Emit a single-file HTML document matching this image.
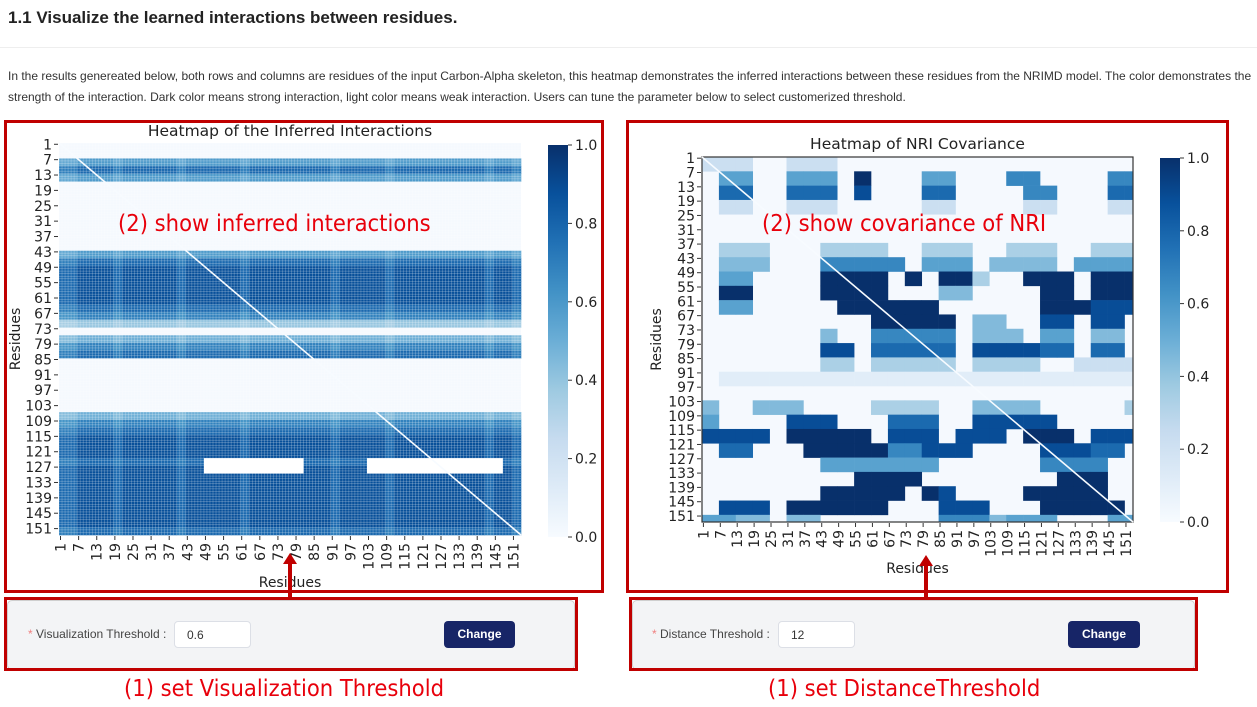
<!DOCTYPE html>
<html><head><meta charset="utf-8"><style>
body{margin:0;width:1257px;height:707px;background:#fff;position:relative;overflow:hidden;font-family:"Liberation Sans",sans-serif}
.abs{position:absolute}
.rbox{position:absolute;border:3px solid #c00000;box-sizing:border-box}
.panel{position:absolute;background:#f3f4f6;border:1px solid #cfcfcf;border-radius:5px;box-sizing:border-box}
.lbl{position:absolute;font-size:12px;color:#444;white-space:nowrap}
.lbl b{color:#f08080;font-weight:normal}
.inp{position:absolute;background:#fff;border:1px solid #dcdfe6;border-radius:4px;box-sizing:border-box;font-size:12px;color:#333;padding:6px 0 0 12px}
.btn{position:absolute;background:#172567;color:#fff;font-weight:bold;font-size:12px;border-radius:4px;text-align:center;line-height:27px}
.red{position:absolute;color:#e8000b;font-family:"DejaVu Sans Condensed","DejaVu Sans",sans-serif;font-size:23.5px;white-space:nowrap}
svg text{font-family:"DejaVu Sans",sans-serif}
</style></head><body>
<div class="abs" style="left:8px;top:8px;font-size:17px;font-weight:bold;color:#222">1.1 Visualize the learned interactions between residues.</div>
<div class="abs" style="left:0;top:47px;width:1257px;height:1px;background:#eee"></div>
<div class="abs" style="left:8px;top:66px;width:1250px;font-size:12px;line-height:21px;color:#333">In the results genereated below, both rows and columns are residues of the input Carbon-Alpha skeleton, this heatmap demonstrates the inferred interactions between these residues from the NRIMD model. The color demonstrates the strength of the interaction. Dark color means strong interaction, light color means weak interaction. Users can tune the parameter below to select customerized threshold.</div>

<svg id="chart" class="abs" style="left:0;top:0" width="1257" height="707"></svg>

<div class="rbox" style="left:4px;top:120px;width:600px;height:473px"></div>
<div class="rbox" style="left:626px;top:120px;width:603px;height:473px"></div>
<div class="red" style="left:118px;top:209px">(2) show inferred interactions</div>
<div class="red" style="left:762px;top:209px">(2) show covariance of NRI</div>

<div class="abs" style="left:288px;top:560px;width:4px;height:38px;background:#c00000"></div>
<div class="abs" style="left:283px;top:553px;width:0;height:0;border-left:7px solid transparent;border-right:7px solid transparent;border-bottom:11px solid #c00000"></div>
<div class="abs" style="left:924px;top:562px;width:4px;height:36px;background:#c00000"></div>
<div class="abs" style="left:919px;top:555px;width:0;height:0;border-left:7px solid transparent;border-right:7px solid transparent;border-bottom:11px solid #c00000"></div>

<div class="panel" style="left:7px;top:600px;width:568px;height:70px"></div>
<div class="rbox" style="left:4px;top:597px;width:574px;height:74px"></div>
<div class="lbl" style="left:28px;top:627px"><b>*</b> Visualization Threshold :</div>
<div class="inp" style="left:174px;top:621px;width:77px;height:27px">0.6</div>
<div class="btn" style="left:444px;top:621px;width:71px;height:27px">Change</div>
<div class="red" style="left:124px;top:674px">(1) set Visualization Threshold</div>

<div class="panel" style="left:632px;top:600px;width:563px;height:70px"></div>
<div class="rbox" style="left:629px;top:597px;width:569px;height:74px"></div>
<div class="lbl" style="left:652px;top:627px"><b>*</b> Distance Threshold :</div>
<div class="inp" style="left:778px;top:621px;width:77px;height:27px">12</div>
<div class="btn" style="left:1068px;top:621px;width:72px;height:27px">Change</div>
<div class="red" style="left:768px;top:674px">(1) set DistanceThreshold</div>

<script>
// ---- data ----
const tickLabels = [1,7,13,19,25,31,37,43,49,55,61,67,73,79,85,91,97,103,109,115,121,127,133,139,145,151];
const cbTicks = [0.0,0.2,0.4,0.6,0.8,1.0];
// heatmap 1: row level per 3-residue block (51 blocks), digits 0-9
const h1RowLevels = [0,0,6,8,6,0,0,0,0,0,0,0,0,0,6,8,9,9,9,9,9,8,7,4,0,5,7,8,0,0,0,0,0,0,0,5,7,8,9,9,9,8,9,9,9,9,9,9,9,9,8];
// column modulation per 3-residue block (51), digits 0-9 (9 = full)
const h1ColMods = [8,8,9,9,9,9,8,9,9,9,9,9,9,8,9,9,9,9,9,9,8,9,9,9,9,9,9,9,9,9,8,9,9,9,9,9,8,9,9,9,9,9,9,9,9,9,9,8,9,9,8];
// holes (zero cells): [rowStart,rowEnd,colStart,colEnd] in residues
const h1Holes = [[124,129,49,80],[125,128,104,147]];
// heatmap 2: 26x26 grid of 6-residue blocks, digits 0-9
const h2Rows = [
"22200222000000000000000000",
"05500555090005500066000066",
"07700777080007700006600077",
"02200222000002200002200022",
"00000000000000000000000000",
"00000000000000000000000000",
"03330003333003330033300333",
"04440006666605550444405555",
"05500009999090993009990999",
"09900009999000440000990999",
"05500000999999000000999888",
"00000000009999904400880880",
"00000004006666604440550440",
"00000008807777708888770770",
"00000003303333303333002222",
"01111111111111111111111111",
"00000000000000000000000000",
"40044400003333004444000003",
"50000888000777008888800000",
"88880999990888088809990888",
"07700099999668880000888770",
"00000005555555000000666600",
"00000000099990000000099900",
"00000009999909800009999900",
"08880999999000888000999990",
"55440440000000666455500055"];

// ---- helpers ----
const svg = document.getElementById('chart');
const NS = 'http://www.w3.org/2000/svg';
function el(tag, attrs, parent){const e=document.createElementNS(NS,tag);for(const k in attrs)e.setAttribute(k,attrs[k]);(parent||svg).appendChild(e);return e;}
const stops=['#f7fbff','#deebf7','#c6dbef','#9ecae1','#6baed6','#4292c6','#2171b5','#08519c','#08306b'];
function hex(h){return [1,3,5].map(i=>parseInt(h.substr(i,2),16));}
function blues(v){v=Math.max(0,Math.min(1,v));const p=v*8,i=Math.min(7,Math.floor(p)),f=p-i;const a=hex(stops[i]),b=hex(stops[i+1]);return 'rgb('+a.map((x,j)=>Math.round(x+(b[j]-x)*f)).join(',')+')';}
const N=153;

function drawAxes(g, P, title, titleY, frame){
  const sx=r=>P.x0+(r-1)/N*(P.x1-P.x0), sy=r=>P.y0+(r-1)/N*(P.y1-P.y0);
  const t=el('text',{x:(P.x0+P.x1)/2,y:titleY,'text-anchor':'middle','font-size':15.5,fill:'#222'},g);t.textContent=title;
  
  tickLabels.forEach(v=>{
    const cy=sy(v+0.5), cx=sx(v+0.5);
    el('line',{x1:P.x0-5,x2:P.x0-1,y1:cy,y2:cy,stroke:'#333'},g);
    const ty=el('text',{x:P.x0-7,y:cy+5,'text-anchor':'end','font-size':14,fill:'#222'},g);ty.textContent=v;
    
    el('line',{x1:cx,x2:cx,y1:P.y1+1,y2:P.y1+5,stroke:'#333'},g);
    const tx=el('text',{x:0,y:0,'text-anchor':'end','font-size':14,fill:'#222',transform:'translate('+(cx+5)+','+(P.y1+8)+') rotate(-90)'},g);tx.textContent=v;
    
  });
  const xl=el('text',{x:(P.x0+P.x1)/2,y:P.xt,'text-anchor':'middle','font-size':14,fill:'#222'},g);xl.textContent='Residues';
  
  const yl=el('text',{x:0,y:0,'text-anchor':'middle','font-size':14,fill:'#222',transform:'translate('+P.yt+','+((P.y0+P.y1)/2)+') rotate(-90)'},g);yl.textContent='Residues';
  
  if(frame)el('rect',{x:P.x0,y:P.y0,width:P.x1-P.x0,height:P.y1-P.y0,fill:'none',stroke:'#333','stroke-width':1.2},g);
  el('line',{x1:sx(1),y1:sy(1),x2:sx(N+1),y2:sy(N+1),stroke:'#f7fbff','stroke-width':1.6},g);
  const C=P.cb, gid='grad'+P.x0;
  const defs=el('defs',{},g);const lg=el('linearGradient',{id:gid,x1:0,y1:1,x2:0,y2:0},defs);
  stops.forEach((s,i)=>el('stop',{offset:i/8,'stop-color':s},lg));
  const cb=el('rect',{x:C.x,y:C.y0,width:C.w,height:C.y1-C.y0,fill:'url(#'+gid+')'},g);
  
  cbTicks.forEach(v=>{const y=C.y1-v*(C.y1-C.y0);
    el('line',{x1:C.x+C.w,x2:C.x+C.w+4,y1:y,y2:y,stroke:'#333'},g);
    const tt=el('text',{x:C.x+C.w+7,y:y+5,'font-size':14,fill:'#222'},g);tt.textContent=v.toFixed(1);
    });
}

// ---- heatmap 1 ----
const g1=el('g',{});

const P1={x0:59,x1:521,y0:143,y1:535,xt:587,yt:20,cb:{x:548,w:20,y0:145,y1:537}};
{
  const sx=r=>P1.x0+(r-1)/N*(P1.x1-P1.x0), sy=r=>P1.y0+(r-1)/N*(P1.y1-P1.y0);
  el('rect',{x:P1.x0,y:P1.y0,width:P1.x1-P1.x0,height:P1.y1-P1.y0,fill:'#f5f9fe'},g1);
  h1RowLevels.forEach((rl,ri)=>{
    if(!rl)return;
    h1ColMods.forEach((cm,ci)=>{
      const r0=ri*3+1,c0=ci*3+1;
      let v=rl/9*cm/9*0.88;
      if(h1Holes.some(h=>r0+1>=h[0]&&r0+1<=h[1]&&c0+1>=h[2]&&c0+1<=h[3]))v=0;
      const c=el('rect',{x:sx(c0),y:sy(r0),width:sx(c0+3)-sx(c0)+0.3,height:sy(r0+3)-sy(r0)+0.3,fill:v?blues(v):'#ffffff'},g1);
      
    });
  });
  // fine white cell grid (seaborn linewidths)
  for(let r=1;r<=N;r++){
    el('line',{x1:P1.x0,x2:P1.x1,y1:sy(r),y2:sy(r),stroke:'#fff','stroke-width':0.35,'stroke-opacity':0.6},g1);
    el('line',{y1:P1.y0,y2:P1.y1,x1:sx(r),x2:sx(r),stroke:'#fff','stroke-width':0.35,'stroke-opacity':0.6},g1);
  }
  drawAxes(g1,P1,'Heatmap of the Inferred Interactions',136,false);
}

// ---- heatmap 2 ----
const g2=el('g',{});

const P2={x0:702,x1:1133,y0:157,y1:522,xt:573,yt:661,cb:{x:1160,w:20,y0:158,y1:522}};
{
  const sx=r=>P2.x0+(r-1)/N*(P2.x1-P2.x0), sy=r=>P2.y0+(r-1)/N*(P2.y1-P2.y0);
  el('rect',{x:P2.x0,y:P2.y0,width:P2.x1-P2.x0,height:P2.y1-P2.y0,fill:'#f5f9fe'},g2);
  h2Rows.forEach((row,ri)=>{
    row.split('').forEach((d,ci)=>{
      const v=+d/9; if(!v)return;
      const r0=ri*6+1,c0=ci*6+1,r1=Math.min(N+1,r0+6),c1=Math.min(N+1,c0+6);
      const c=el('rect',{x:sx(c0),y:sy(r0),width:sx(c1)-sx(c0)+0.3,height:sy(r1)-sy(r0)+0.3,fill:blues(v)},g2);
      
    });
  });
  drawAxes(g2,P2,'Heatmap of NRI Covariance',149,true);
}
</script>
</body></html>
